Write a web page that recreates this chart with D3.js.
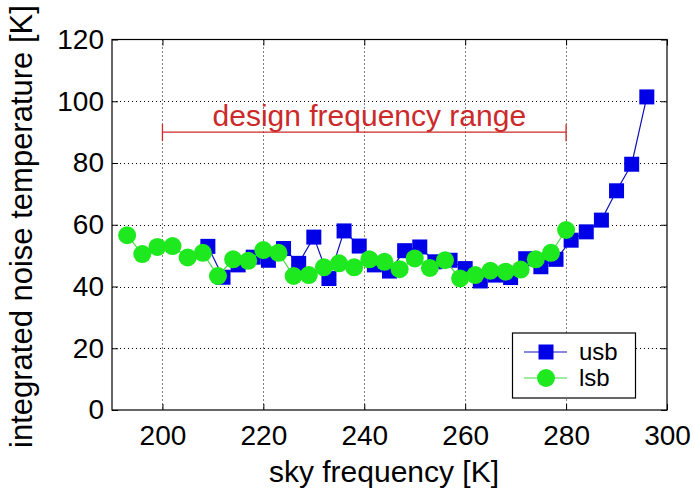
<!DOCTYPE html>
<html>
<head>
<meta charset="utf-8">
<script src="https://cdn.jsdelivr.net/npm/d3@7"></script>
<style>
  body { margin: 0; background: #fff; }
  svg text { font-family: "Liberation Sans", Arial, Helvetica, sans-serif; fill: #000; }
</style>
</head>
<body>
<svg id="chart" width="694" height="490"></svg>
<script>
// Upper sideband: sky frequency and integrated noise temperature
const usbFreq = [209, 212, 215, 218, 221, 224, 227, 230, 233, 236, 239, 242, 245, 248, 251,
                 254, 257, 260, 263, 266, 269, 272, 275, 278, 281, 284, 287, 290, 293, 296];
const usbTemp = [53, 43, 47, 49.5, 48.5, 52.3, 47.5, 56, 42.6, 58, 53.1, 47, 45, 51.6, 52.8,
                 48, 48.5, 45.8, 41.8, 43.7, 42.9, 49, 46.4, 48.8, 55, 57.7, 61.5, 71, 79.6, 101.4];

// Lower sideband
const lsbFreq = [193, 196, 199, 202, 205, 208, 211, 214, 217, 220, 223, 226, 229, 232, 235,
                 238, 241, 244, 247, 250, 253, 256, 259, 262, 265, 268, 271, 274, 277, 280];
const lsbTemp = [56.6, 50.5, 52.8, 53.1, 49.4, 50.9, 43.4, 48.8, 48.3, 51.8, 50.9, 43.4, 43.7, 46.2, 47.5,
                 46.2, 48.8, 48, 45.6, 49.1, 46, 48.5, 42.6, 43.7, 45.1, 44.8, 45.5, 48.8, 50.9, 58.3];

// Axis ticks
const xTicks = [200, 220, 240, 260, 280, 300];
const yTicks = [0, 20, 40, 60, 80, 100, 120];

// Design frequency range marker
const designRange = [200, 280];
const designLevel = 90;
const designLabel = "design frequency range";

const seriesNames = ["usb", "lsb"];

const svg = d3.select("#chart");
const x = d3.scaleLinear().domain([190, 300]).range([112, 667]);
const y = d3.scaleLinear().domain([0, 120]).range([410, 39.5]);

const [x0, x1] = x.range();
const [yB, yT] = y.range();

// dotted grid
const grid = svg.append("g").attr("stroke", "#000").attr("stroke-width", 1)
  .attr("stroke-dasharray", "1,3");
grid.selectAll("line.gx").data(xTicks.filter(t => t > 190 && t < 300)).join("line")
  .attr("x1", d => Math.round(x(d)) + 0.5).attr("x2", d => Math.round(x(d)) + 0.5)
  .attr("y1", yT).attr("y2", yB);
grid.selectAll("line.gy").data(yTicks.filter(t => t > 0 && t < 120)).join("line")
  .attr("y1", d => Math.round(y(d)) + 0.5).attr("y2", d => Math.round(y(d)) + 0.5)
  .attr("x1", x0).attr("x2", x1);

// axes with inward ticks on every side
function styleAxis(g) {
  g.select(".domain").remove();
  g.selectAll(".tick line").attr("stroke", "#000");
  g.selectAll(".tick text").attr("font-size", 28).attr("fill", "#000")
    .attr("font-family", '"Liberation Sans", Arial, sans-serif');
}
svg.append("g").attr("transform", `translate(0,${yB})`)
  .call(d3.axisBottom(x).tickValues(xTicks).tickSize(-6).tickPadding(15).tickFormat(d3.format("d")))
  .call(styleAxis);
svg.append("g").attr("transform", `translate(0,${yT})`)
  .call(d3.axisTop(x).tickValues(xTicks).tickSize(-6).tickFormat(""))
  .call(styleAxis);
svg.append("g").attr("transform", `translate(${x0},0)`)
  .call(d3.axisLeft(y).tickValues(yTicks).tickSize(-6).tickPadding(8).tickFormat(d3.format("d")))
  .call(styleAxis);
svg.append("g").attr("transform", `translate(${x1},0)`)
  .call(d3.axisRight(y).tickValues(yTicks).tickSize(-6).tickFormat(""))
  .call(styleAxis);

// plot frame
svg.append("rect").attr("x", x0).attr("y", yT).attr("width", x1 - x0).attr("height", yB - yT)
  .attr("fill", "none").attr("stroke", "#000").attr("stroke-width", 1.2);

// design frequency range bracket
const red = "#cc2a2a";
const dr = svg.append("g").attr("stroke", red).attr("stroke-width", 1.3);
dr.append("line").attr("x1", x(designRange[0])).attr("x2", x(designRange[1]))
  .attr("y1", y(designLevel)).attr("y2", y(designLevel));
dr.selectAll("line.end").data(designRange).join("line")
  .attr("x1", d => x(d)).attr("x2", d => x(d))
  .attr("y1", y(designLevel) - 8).attr("y2", y(designLevel) + 9);
svg.append("text").attr("x", x(241)).attr("y", y(designLevel) - 6)
  .attr("text-anchor", "middle").attr("font-size", 30).style("fill", red)
  .text(designLabel);

// series
const usbLineColor = "#1010b8", usbMarker = "#0000e8";
const lsbLineColor = "#44d844", lsbMarker = "#1ee81e";

const usb = usbFreq.map((f, i) => [f, usbTemp[i]]);
const lsb = lsbFreq.map((f, i) => [f, lsbTemp[i]]);
const line = d3.line().x(d => x(d[0])).y(d => y(d[1]));

const sq = 15, cr = 9;

svg.append("path").datum(usb).attr("d", line).attr("fill", "none")
  .attr("stroke", usbLineColor).attr("stroke-width", 1.2);
svg.append("g").selectAll("rect").data(usb).join("rect")
  .attr("x", d => x(d[0]) - sq / 2).attr("y", d => y(d[1]) - sq / 2)
  .attr("width", sq).attr("height", sq).attr("fill", usbMarker);

svg.append("path").datum(lsb).attr("d", line).attr("fill", "none")
  .attr("stroke", lsbLineColor).attr("stroke-width", 1.2);
svg.append("g").selectAll("circle").data(lsb).join("circle")
  .attr("cx", d => x(d[0])).attr("cy", d => y(d[1])).attr("r", cr).attr("fill", lsbMarker);

// legend
const lg = svg.append("g");
lg.append("rect").attr("x", 512.5).attr("y", 333).attr("width", 123).attr("height", 65)
  .attr("fill", "#fff").attr("stroke", "#000").attr("stroke-width", 1.2);
const rows = [
  { name: seriesNames[0], cy: 352, line: usbLineColor, fill: usbMarker, shape: "square" },
  { name: seriesNames[1], cy: 378, line: lsbLineColor, fill: lsbMarker, shape: "circle" }
];
rows.forEach(r => {
  lg.append("line").attr("x1", 524).attr("x2", 567).attr("y1", r.cy).attr("y2", r.cy)
    .attr("stroke", r.line).attr("stroke-width", 1.2);
  if (r.shape === "square") {
    lg.append("rect").attr("x", 546 - sq / 2).attr("y", r.cy - sq / 2)
      .attr("width", sq).attr("height", sq).attr("fill", r.fill);
  } else {
    lg.append("circle").attr("cx", 546).attr("cy", r.cy).attr("r", cr).attr("fill", r.fill);
  }
  lg.append("text").attr("x", 579).attr("y", r.cy + 8).attr("font-size", 24).text(r.name);
});

// axis titles
svg.append("text").attr("x", 384).attr("y", 482).attr("text-anchor", "middle")
  .attr("font-size", 30).text("sky frequency [K]");
svg.append("text").attr("transform", "translate(32,448) rotate(-90)")
  .attr("text-anchor", "start").attr("font-size", 31).text("integrated noise temperature [K]");
</script>
</body>
</html>
